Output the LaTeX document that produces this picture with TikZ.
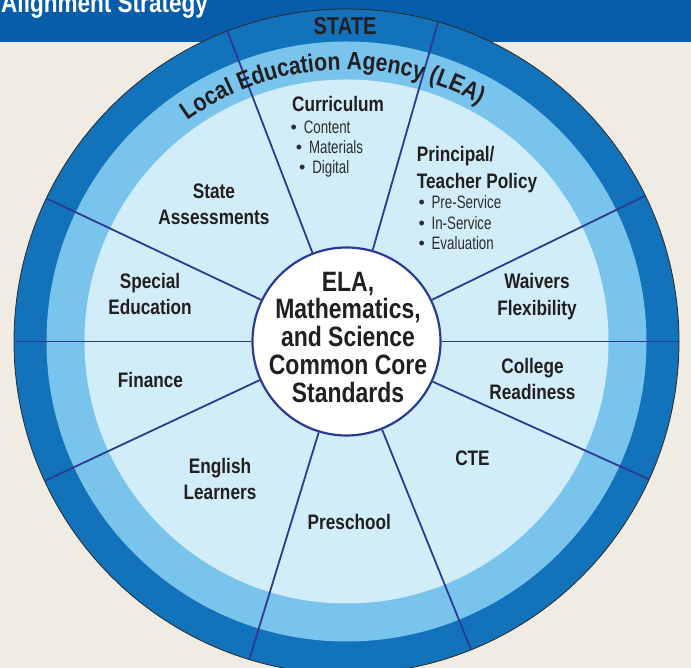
\documentclass[tikz,border=0pt]{standalone}
\usepackage{fontspec}
\setmainfont{Liberation Sans}
\newfontfamily\labfont{Liberation Sans}[FakeStretch=0.82]
\newfontfamily\lightfont{Liberation Sans}[FakeStretch=0.74]
\newfontfamily\arcfont{Liberation Sans}[FakeStretch=0.85]
\newfontfamily\dotfont{Liberation Sans}
\usetikzlibrary{calc,decorations.text}

\definecolor{bgc}{HTML}{F1ECE3}
\definecolor{banner}{HTML}{075DAA}
\definecolor{ringdark}{HTML}{1272BA}
\definecolor{ringlight}{HTML}{79C4EC}
\definecolor{pale}{HTML}{D2EDFA}
\definecolor{navy}{HTML}{2B3A92}
\definecolor{ink}{HTML}{231F20}
\definecolor{bulink}{HTML}{2D2D2D}
\definecolor{rimline}{HTML}{2A2A2A}

\newcommand\bulitem[1]{{\dotfont\textbullet}\hspace{6.8pt}#1}

\tikzset{
  lbl/.style={font=\labfont\bfseries\fontsize{21}{26.7}\selectfont, text=ink,
    align=center, inner sep=0pt, anchor=base},
  bul/.style={font=\lightfont\fontsize{18}{21}\selectfont, text=bulink,
    inner sep=0pt, anchor=base west},
  spoke/.style={draw=navy, line width=1.8pt},
}

\begin{document}
\begin{tikzpicture}[x=1pt,y=1pt]
\useasboundingbox (0,0) rectangle (691,668);
\fill[bgc] (0,0) rectangle (691,668);

% title banner
\fill[banner] (0,626) rectangle (691,668);
\node[anchor=base west, inner sep=0pt, text=white,
  font=\labfont\bfseries\fontsize{27.5}{30}\selectfont] (title) at (1,655.3) {Alignment Strategy};

% concentric rings
\coordinate (O) at (346.5,326.5);
\fill[ringdark, draw=rimline, line width=0.8pt] (O) circle[radius=332.5];
\fill[ringlight] (O) circle[radius=300];
\fill[pale] (O) circle[radius=262];

% hub
\node[circle, minimum size=188pt, inner sep=0pt, fill=white, draw=navy,
  line width=2.2pt] (core) at (O) {};
\node[font=\labfont\bfseries\fontsize{28}{27.75}\selectfont, text=ink,
  align=center, inner sep=0pt] (coretext) at (348,330.8)
  {ELA,\\Mathematics,\\and Science\\Common Core\\Standards};

% spokes from the hub to the rim
\foreach \a [count=\i] in {0,26,74,111,154.5,180,204.8,253,292,335.5}{
  \coordinate (rim\i) at ($(O)+(\a:332.5)$);
  \draw[spoke] (core.\a) -- (rim\i);
}

% ring titles
\node[anchor=base, inner sep=0pt, text=ink,
  font=\labfont\bfseries\fontsize{24.5}{26}\selectfont] (state) at (345,633) {STATE};
\path[decorate, decoration={text along path, text align=left, text color=ink,
    text={|\arcfont\bfseries\fontsize{25}{25}\selectfont|Local Education Agency (LEA)}}]
  ($(O)+(125.8:272)$) arc[start angle=125.8, end angle=45, radius=272];

% sector labels (multi-line labels sit on the baseline of their last line)
\node[lbl] (curr) at (338,556.3) {Curriculum};
\node[bul] (cur1) at (290.5,534.7) {\bulitem{Content}};
\node[bul] (cur2) at (295.7,514.7) {\bulitem{Materials}};
\node[bul] (cur3) at (299,494.7) {\bulitem{Digital}};

\node[lbl, align=left, anchor=base west] (ptp) at (416.7,479.7) {Principal/\\Teacher Policy};
\node[bul] (ptp1) at (418.3,459.7) {\bulitem{Pre-Service}};
\node[bul] (ptp2) at (418.3,438) {\bulitem{In-Service}};
\node[bul] (ptp3) at (418.3,418) {\bulitem{Evaluation}};

\node[lbl] (sa)  at (214,443)   {State\\Assessments};
\node[lbl] (se)  at (150,353)   {Special\\Education};
\node[lbl] (fin) at (150.5,280) {Finance};
\node[lbl] (wf)  at (537,352.3) {Waivers\\Flexibility};
\node[lbl] (cr)  at (532.5,268) {College\\Readiness};
\node[lbl] (cte) at (472.5,202) {CTE};
\node[lbl] (el)  at (220,168)   {English\\Learners};
\node[lbl] (pre) at (349.3,138.7) {Preschool};
\end{tikzpicture}
\end{document}
